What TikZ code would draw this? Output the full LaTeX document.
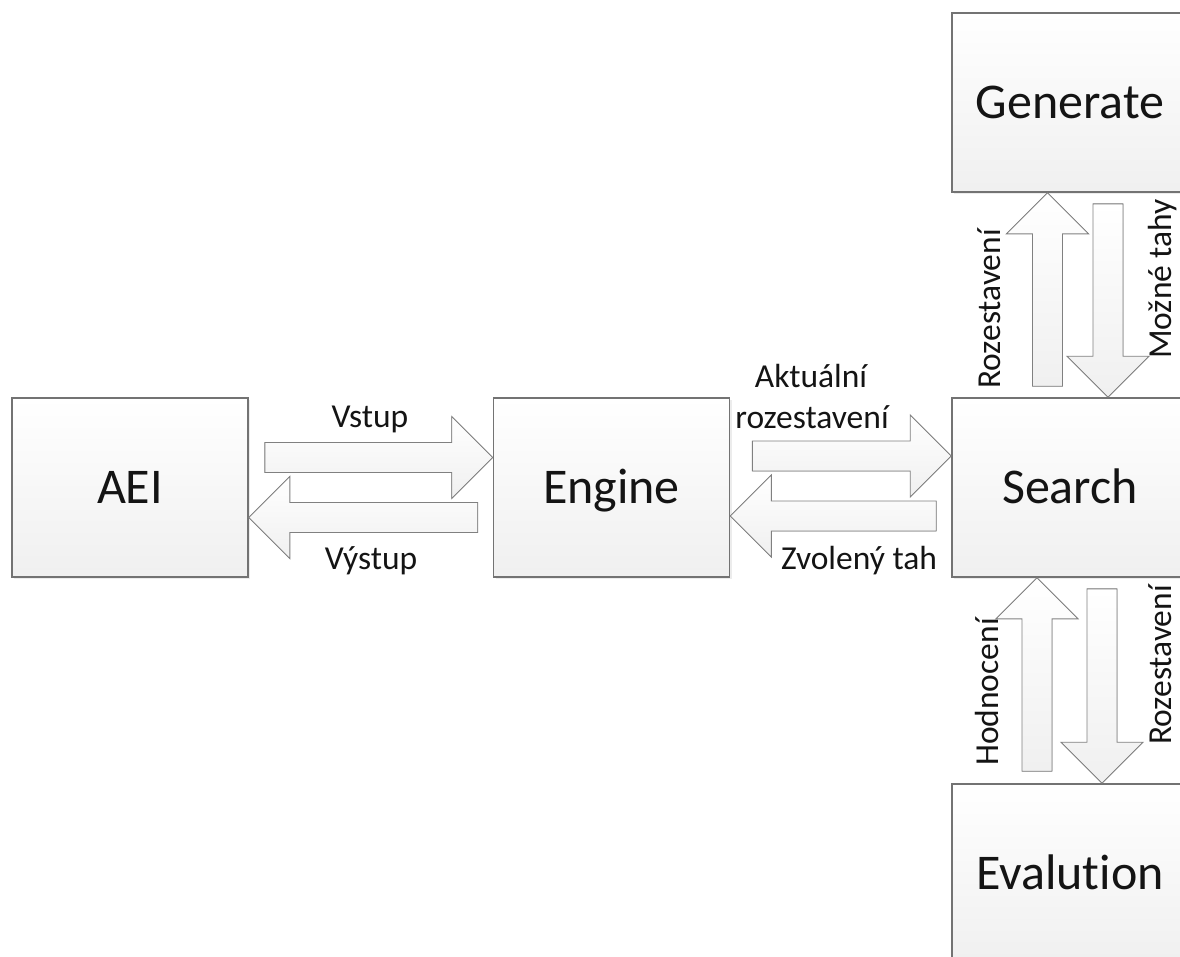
\documentclass[tikz,border=0pt]{standalone}
\usepackage{fontspec}
\setmainfont[Ligatures={NoCommon}]{Carlito}
\usetikzlibrary{calc,shadows}
\tikzset{
  box/.style={draw=black!55, line width=1.6pt, top color=white, bottom color=black!6,
    minimum width=236pt, minimum height=179pt, inner sep=0pt,
    text height=32pt, text depth=0pt,
    font=\fontsize{50}{58}\selectfont, text=black!92,
    drop shadow={opacity=0.15, shadow xshift=2pt, shadow yshift=-2pt}},
  arr/.style={draw=black!50, line width=0.9pt, top color=white, bottom color=black!6, line join=miter},
  lbl/.style={font=\fontsize{33.5}{40}\selectfont, text=black!92, inner sep=0pt, anchor=base},
}
\newcommand{\blockarrow}[2]{%
  \path #1 coordinate (ba) #2 coordinate (bt);
  \path ($(bt)!41pt!(ba)$) coordinate (bh);
  \filldraw[arr] ($(ba)!15pt!90:(bt)$) -- ($(bh)!15pt!90:(bt)$) -- ($(bh)!41pt!90:(bt)$)
    -- (bt) -- ($(bh)!41pt!-90:(bt)$) -- ($(bh)!15pt!-90:(bt)$) -- ($(ba)!15pt!-90:(bt)$) -- cycle;
}
\begin{document}
\begin{tikzpicture}[x=1pt,y=-1pt]
\useasboundingbox (0,0) rectangle (1180,956);
\clip (0,0) rectangle (1180,956);
% boxes
\node[box] (aei) at (130,487.5) {AEI};
\node[box] (engine) at (611.5,487.5) {Engine};
\node[box] (search) at (1070,487.5) {Search};
\node[box] (generate) at (1070,102.5) {Generate};
\node[box] (evalution) at (1070,873.5) {Evalution};
% horizontal arrows
\blockarrow{([xshift=16pt,yshift=30pt]aei.east)}{([yshift=30pt]engine.west)}
\blockarrow{([xshift=-15pt,yshift=-30pt]engine.west)}{([yshift=-30pt]aei.east)}
\blockarrow{([xshift=22pt,yshift=31.5pt]engine.east)}{([yshift=31.5pt]search.west)}
\blockarrow{([xshift=-15pt,yshift=-28.5pt]search.west)}{([yshift=-28.5pt]engine.east)}
% vertical arrows
\blockarrow{([xshift=-22.5pt,yshift=11pt]search.north)}{([xshift=-22.5pt]generate.south)}
\blockarrow{([xshift=38pt,yshift=-11pt]generate.south)}{([xshift=38pt]search.north)}
\blockarrow{([xshift=-33pt,yshift=12pt]evalution.north)}{([xshift=-33pt]search.south)}
\blockarrow{([xshift=32pt,yshift=-11pt]search.south)}{([xshift=32pt]evalution.north)}
% labels
\node[lbl] (l1) at (370,427) {Vstup};
\node[lbl] (l2) at (371,569) {Výstup};
\node[lbl] (l3) at (811,387) {Aktuální};
\node[lbl] (l4) at (812,428) {rozestavení};
\node[lbl] (l5) at (859,569) {Zvolený tah};
\node[lbl, rotate=90] (l6) at (1000,309) {Rozestavení};
\node[lbl, rotate=90] (l7) at (1171,279) {Možné tahy};
\node[lbl, rotate=90] (l8) at (998,692) {Hodnocení};
\node[lbl, rotate=90] (l9) at (1171,665) {Rozestavení};
\end{tikzpicture}
\end{document}
